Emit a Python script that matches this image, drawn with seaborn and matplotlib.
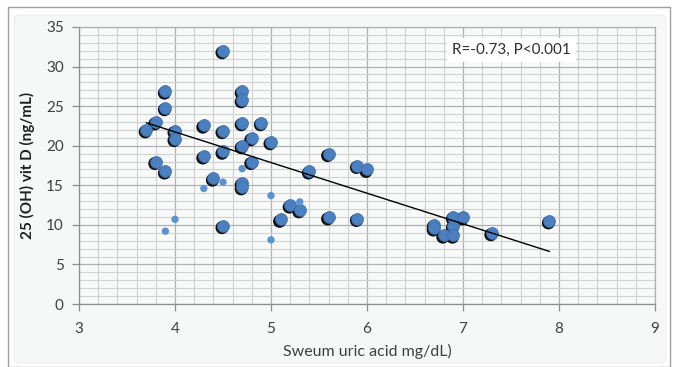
import numpy as np
import pandas as pd
import matplotlib
matplotlib.use("Agg")
import matplotlib.pyplot as plt
import matplotlib.transforms as mtransforms
from matplotlib.patches import FancyBboxPatch, Rectangle
from matplotlib.ticker import MultipleLocator
import seaborn as sns

# ---- data ----
uric_main = [3.7, 3.8, 3.8, 3.9, 3.9, 3.9, 4.0, 4.0, 4.3, 4.3, 4.4, 4.5, 4.5, 4.5, 4.5,
             4.7, 4.7, 4.7, 4.7, 4.7, 4.7, 4.8, 4.8, 4.9, 5.0, 5.1, 5.2, 5.3, 5.4,
             5.6, 5.6, 5.9, 5.9, 6.0, 6.7, 6.7, 6.8, 6.9, 6.9, 6.9, 7.0, 7.3, 7.9]
vitd_main = [22.0, 23.0, 18.0, 16.8, 26.9, 24.8, 21.9, 20.9, 22.6, 18.7, 15.9, 32.0, 21.9, 19.3, 9.9,
             26.9, 25.8, 22.9, 20.0, 15.3, 14.8, 21.0, 18.0, 22.9, 20.5, 10.7, 12.5, 11.9, 16.8,
             19.0, 11.0, 17.5, 10.8, 17.0, 10.0, 9.6, 8.7, 11.0, 9.9, 8.7, 11.0, 9.0, 10.5]
uric_small = [3.9, 4.0, 4.3, 4.5, 4.7, 5.0, 5.0, 5.3]
vitd_small = [9.2, 10.7, 14.6, 15.4, 17.1, 13.7, 8.1, 12.9]

x_ticks = [3, 4, 5, 6, 7, 8, 9]
y_ticks = [0, 5, 10, 15, 20, 25, 30, 35]
annotation = "R=-0.73, P<0.001"
x_label = "Sweum uric acid mg/dL)"
y_label = "25 (OH) vit D (ng/mL)"

df_main = pd.DataFrame({"uric": uric_main, "vitd": vitd_main})
df_small = pd.DataFrame({"uric": uric_small, "vitd": vitd_small})

sns.set_theme(style="white")
plt.rcParams["font.family"] = ["Lato", "DejaVu Sans"]

fig = plt.figure(figsize=(6.73, 3.67), dpi=100)
fig.patch.set_facecolor("white")

# outer frame and panel background
fig.patches.append(Rectangle((8 / 673, 0), 662 / 673, 1 - 7 / 367, transform=fig.transFigure,
                             facecolor="white", edgecolor="#a0a0a0", linewidth=1.0, zorder=-10))
fig.patches.append(FancyBboxPatch((14 / 673, 4 / 367), 652 / 673, 1 - 19 / 367,
                                  boxstyle="round,pad=0,rounding_size=0.012",
                                  transform=fig.transFigure, facecolor="#f6f7f7",
                                  edgecolor="#eeeeee", linewidth=0.8, zorder=-9))

ax = fig.add_axes([79 / 673, 1 - 304 / 367, (655 - 79) / 673, (304 - 27) / 367])
ax.set_zorder(1)
ax.set_facecolor("#f8f9f9")
ax.set_xlim(3, 9)
ax.set_ylim(0, 35)
ax.set_xticks(x_ticks)
ax.set_yticks(y_ticks)
ax.xaxis.set_minor_locator(MultipleLocator(0.2))
ax.yaxis.set_minor_locator(MultipleLocator(1))
ax.grid(which="major", color="#b0b0b0", linewidth=0.9, zorder=0)
ax.grid(which="minor", color="#d2d2d2", linewidth=0.8, zorder=0)
ax.set_axisbelow(True)
for side in ["left", "bottom"]:
    ax.spines[side].set_color("#8c8c8c")
    ax.spines[side].set_linewidth(0.9)
for side in ["top", "right"]:
    ax.spines[side].set_visible(True)
    ax.spines[side].set_color("#b0b0b0")
    ax.spines[side].set_linewidth(0.9)

ax.tick_params(axis="both", which="major", length=5, width=0.9, color="#8c8c8c",
               labelsize=11, labelcolor="#404040", direction="out",
               bottom=True, left=True)
ax.tick_params(axis="both", which="minor", length=0)
ax.tick_params(axis="x", pad=8)
ax.tick_params(axis="y", pad=6)

# shadows for main markers
shadow = mtransforms.offset_copy(ax.transData, fig=fig, x=-1.0, y=-2.0, units="dots")
sns.scatterplot(data=df_main, x="uric", y="vitd", ax=ax, s=88, color="#111111",
                edgecolor="none", linewidth=0, zorder=3, transform=shadow, legend=False)
sns.scatterplot(data=df_main, x="uric", y="vitd", ax=ax, s=74, color="#4a7fc0",
                edgecolor="#3b6aa8", linewidth=0.5, zorder=4, legend=False)
sns.scatterplot(data=df_small, x="uric", y="vitd", ax=ax, s=28, color="#5a92d2",
                edgecolor="none", linewidth=0, zorder=4, legend=False)

sns.regplot(data=df_main, x="uric", y="vitd", ax=ax, scatter=False, ci=None,
            line_kws={"color": "black", "linewidth": 1.0, "zorder": 5})

ax.set_xlim(3, 9)
ax.set_ylim(0, 35)
ax.set_xlabel(x_label, fontsize=11.5, color="#404040", labelpad=6)
ax.set_ylabel(y_label, fontsize=11, fontweight="bold", color="#202020", labelpad=8)

ax.text(452 / 673, 1 - 50 / 367, annotation, transform=fig.transFigure, fontsize=11,
        color="#303030", va="center", ha="left", zorder=7,
        bbox=dict(boxstyle="square,pad=0.35", facecolor="white", edgecolor="none"))

fig.savefig("out.png", dpi=100, facecolor=fig.get_facecolor())
